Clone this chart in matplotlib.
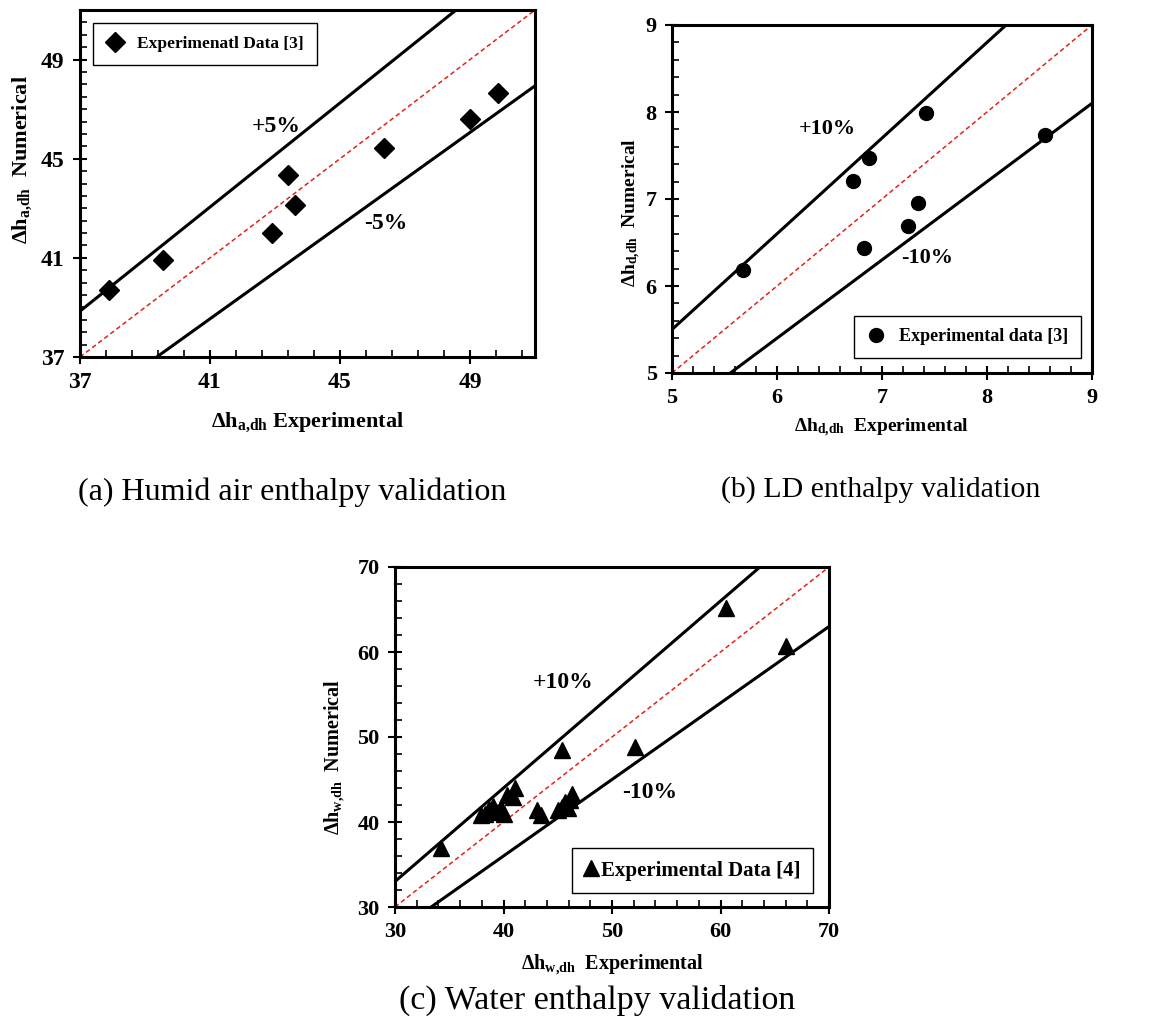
import numpy as np
import matplotlib
matplotlib.use("Agg")
import matplotlib.pyplot as plt
from matplotlib.ticker import MultipleLocator

plt.rcParams['font.family'] = ['Liberation Serif', 'DejaVu Serif']
plt.rcParams['mathtext.fontset'] = 'custom'
plt.rcParams['mathtext.rm'] = 'Liberation Serif:bold'
plt.rcParams['mathtext.it'] = 'Liberation Serif:bold'
plt.rcParams['mathtext.bf'] = 'Liberation Serif:bold'

# (a) humid air
air_exp = [37.9, 39.55, 42.9, 43.4, 43.6, 46.35, 49.0, 49.85]
air_num = [39.7, 40.9, 42.0, 44.35, 43.15, 45.45, 46.6, 47.65]
# (b) liquid desiccant
ld_exp = [5.68, 6.72, 6.88, 7.42, 6.83, 7.25, 7.34, 8.55]
ld_num = [6.18, 7.21, 7.47, 7.99, 6.44, 6.69, 6.95, 7.73]
# (c) water
w_exp = [34.2, 37.9, 38.3, 38.7, 39.0, 39.5, 39.8, 40.0, 40.3, 40.9, 41.1,
         43.1, 43.5, 45.0, 45.4, 45.7, 45.9, 46.1, 46.3,
         45.4, 52.1, 60.5, 66.0]
w_num = [36.9, 40.8, 41.0, 41.5, 41.9, 41.2, 41.6, 41.0, 43.2, 43.0, 44.0,
         41.4, 40.8, 41.4, 41.8, 42.3, 41.7, 42.6, 43.3,
         48.5, 48.8, 65.2, 60.7]

W, H = 1163, 1021
fig = plt.figure(figsize=(W / 100, H / 100), dpi=100)


def make_ax(l, t, r, b):
    return fig.add_axes([l / W, 1 - b / H, (r - l) / W, (b - t) / H])


def style(ax, lo, hi, major, minor_x, minor_y, fs):
    ax.set_xlim(lo, hi)
    ax.set_ylim(lo, hi)
    ax.xaxis.set_major_locator(MultipleLocator(major, offset=lo))
    ax.yaxis.set_major_locator(MultipleLocator(major, offset=lo))
    ax.xaxis.set_minor_locator(MultipleLocator(minor_x, offset=lo))
    ax.yaxis.set_minor_locator(MultipleLocator(minor_y, offset=lo))
    ax.tick_params(which='major', direction='inout', length=10, width=1.5,
                   labelsize=fs, pad=6)
    ax.tick_params(which='minor', direction='in', length=5, width=1.2)
    for s in ax.spines.values():
        s.set_linewidth(2.2)
    for lab in ax.get_xticklabels() + ax.get_yticklabels():
        lab.set_fontweight('bold')


def bands(ax, lo, hi, up, down):
    x = np.linspace(lo, hi, 50)
    ax.plot(x, up * x, color='black', lw=2.2)
    ax.plot(x, down * x, color='black', lw=2.2)
    ax.plot([lo, hi], [lo, hi], color='#e3211c', lw=1.1, ls=(0, (3, 2)))


leg_kw = dict(fancybox=False, edgecolor='black', framealpha=1, borderaxespad=0)

# ---- (a)
ax = make_ax(80, 10, 535, 357)
bands(ax, 37, 51, 1.05, 0.94)
ax.plot(air_exp, air_num, 'D', color='black', ms=10, ls='none',
        label='Experimenatl Data [3]')
style(ax, 37, 51, 4, 0.8, 0.5, 17)
ax.text(43.05, 46.3, '+5%', fontsize=17, fontweight='bold', ha='center', va='center')
ax.text(46.4, 42.4, '-5%', fontsize=17, fontweight='bold', ha='center', va='center')
ax.set_xlabel(r'$\Delta$h$_{\mathrm{a{,}dh}}$ Experimental', fontsize=16,
              fontweight='bold')
ax.set_ylabel(r'$\Delta$h$_{\mathrm{a{,}dh}}$  Numerical', fontsize=16,
              fontweight='bold')
ax.yaxis.set_label_coords(-0.1, 0.57)
ax.xaxis.set_label_coords(0.5, -0.155)
ax.legend(loc='upper left', bbox_to_anchor=(0.029, 0.963), handlelength=1.0,
          borderpad=0.75, prop={'weight': 'bold', 'size': 12.5}, **leg_kw)

# ---- (b)
ax = make_ax(672, 25, 1092, 373)
bands(ax, 5, 9, 1.1, 0.9)
ax.plot(ld_exp, ld_num, 'o', color='black', ms=10, ls='none',
        label='Experimental data [3]')
style(ax, 5, 9, 1, 0.2, 0.2, 16)
ax.text(6.48, 7.8, '+10%', fontsize=16, fontweight='bold', ha='center', va='center')
ax.text(7.43, 6.32, '-10%', fontsize=16, fontweight='bold', ha='center', va='center')
ax.set_xlabel(r'$\Delta$h$_{\mathrm{d{,}dh}}$  Experimental', fontsize=14,
              fontweight='bold')
ax.set_ylabel(r'$\Delta$h$_{\mathrm{d{,}dh}}$  Numerical', fontsize=14,
              fontweight='bold')
ax.yaxis.set_label_coords(-0.07, 0.46)
ax.xaxis.set_label_coords(0.5, -0.125)
ax.legend(loc='lower right', bbox_to_anchor=(0.974, 0.043), handlelength=1.0,
          borderpad=0.7, prop={'weight': 'bold', 'size': 13}, **leg_kw)

# ---- (c)
ax = make_ax(395, 567, 829, 907)
bands(ax, 30, 70, 1.1, 0.9)
ax.plot(w_exp, w_num, '^', color='black', ms=11, ls='none',
        label='Experimental Data [4]')
style(ax, 30, 70, 10, 2, 2, 16)
ax.text(45.5, 56.4, '+10%', fontsize=17, fontweight='bold', ha='center', va='center')
ax.text(53.5, 43.5, '-10%', fontsize=17, fontweight='bold', ha='center', va='center')
ax.set_xlabel(r'$\Delta$h$_{\mathrm{w{,}dh}}$  Experimental', fontsize=14.5,
              fontweight='bold')
ax.set_ylabel(r'$\Delta$h$_{\mathrm{w{,}dh}}$  Numerical', fontsize=14.5,
              fontweight='bold')
ax.yaxis.set_label_coords(-0.11, 0.44)
ax.xaxis.set_label_coords(0.5, -0.135)
ax.legend(loc='lower right', bbox_to_anchor=(0.963, 0.041), handlelength=0.6,
          handletextpad=0.2, borderpad=0.6, prop={'weight': 'bold', 'size': 15},
          **leg_kw)

# captions
fig.text(292 / W, 1 - 492 / H, '(a) Humid air enthalpy validation',
         fontsize=23, ha='center', va='center')
fig.text(881 / W, 1 - 490 / H, '(b) LD enthalpy validation',
         fontsize=21.5, ha='center', va='center')
fig.text(597 / W, 1 - 1000 / H, '(c) Water enthalpy validation',
         fontsize=24.5, ha='center', va='center')

fig.savefig('out.png', dpi=100)
